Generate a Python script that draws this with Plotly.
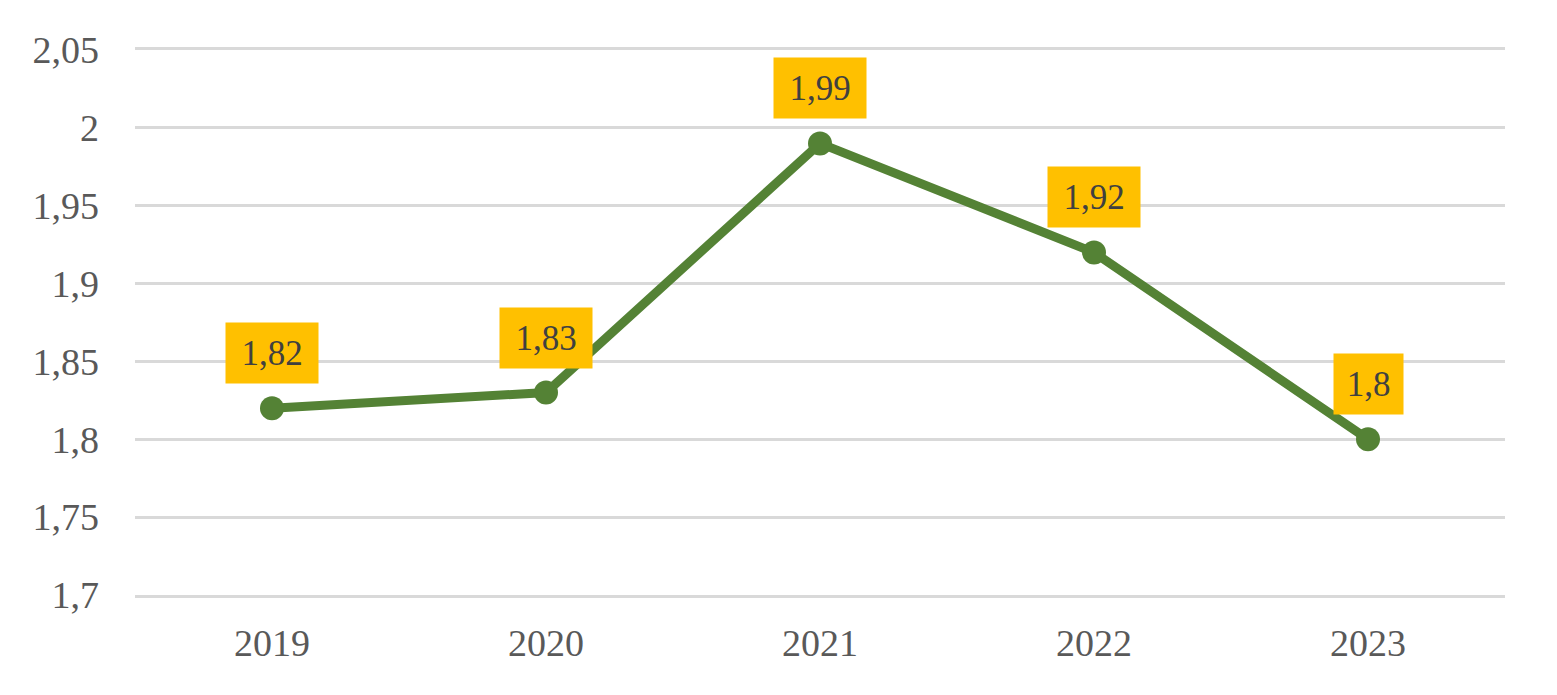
import plotly.graph_objects as go

years = ["2019", "2020", "2021", "2022", "2023"]
values = [1.82, 1.83, 1.99, 1.92, 1.80]
labels = ["1,82", "1,83", "1,99", "1,92", "1,8"]
y_ticks = [1.7, 1.75, 1.8, 1.85, 1.9, 1.95, 2.0, 2.05]
y_tick_text = ["1,7", "1,75", "1,8", "1,85", "1,9", "1,95", "2", "2,05"]

FONT = "Liberation Serif"
positions = list(range(len(years)))

fig = go.Figure()
fig.add_trace(go.Scatter(
    x=positions, y=values, mode="lines+markers",
    line=dict(color="#548235", width=9),
    marker=dict(color="#548235", size=24),
    hoverinfo="skip",
))

for i, v, t in zip(positions, values, labels):
    fig.add_annotation(
        x=i, y=v, xref="x", yref="y", text=t, showarrow=False, yshift=55,
        bgcolor="#FFC000", width=23 * len(t), height=60, borderpad=0,
        font=dict(family=FONT, size=35, color="#404040"),
    )

fig.update_layout(
    width=1557, height=695,
    margin=dict(l=127, r=60, t=42, b=108),
    paper_bgcolor="white", plot_bgcolor="white",
    showlegend=False,
    font=dict(family=FONT, size=38, color="#595959"),
)
fig.update_xaxes(
    range=[-0.5, 4.5], tickvals=positions, ticktext=years, showgrid=False,
    showline=True, mirror=True, linecolor="#D9D9D9", linewidth=2.5,
    zeroline=False, ticks="", ticklabelstandoff=13,
    tickfont=dict(family=FONT, size=38, color="#595959"),
)
fig.update_yaxes(
    range=[1.7, 2.05], tickvals=y_ticks, ticktext=y_tick_text,
    showgrid=True, gridcolor="#D9D9D9", gridwidth=2.5,
    zeroline=False, showline=False, ticks="", ticklabelstandoff=35,
    tickfont=dict(family=FONT, size=38, color="#595959"),
)

fig.write_html("out.html")
